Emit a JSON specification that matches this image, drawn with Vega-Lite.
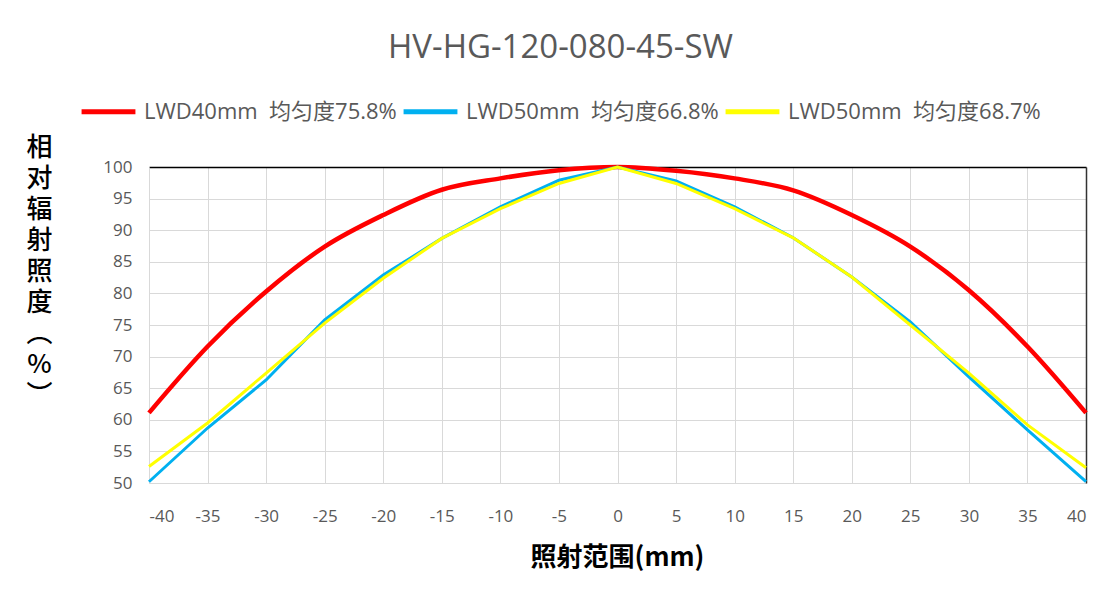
{
  "$schema": "https://vega.github.io/schema/vega-lite/v6.json",
  "autosize": {"type": "none"},
  "width": 937,
  "height": 316,
  "padding": {"left": 149, "top": 167, "right": 29, "bottom": 127},
  "background": "white",
  "config": {
    "view": {"stroke": null},
    "font": "Open Sans"
  },
  "title": {
    "text": "HV-HG-120-080-45-SW",
    "font": "Open Sans",
    "fontSize": 33,
    "fontWeight": "normal",
    "color": "#595959",
    "anchor": "middle",
    "dx": -57,
    "offset": 17
  },
  "data": {
    "values": [
      {"x": -40, "s": "A", "y": 61.1}, {"x": -35, "s": "A", "y": 71.6}, {"x": -30, "s": "A", "y": 80.3}, {"x": -25, "s": "A", "y": 87.4}, {"x": -20, "s": "A", "y": 92.4}, {"x": -15, "s": "A", "y": 96.4}, {"x": -10, "s": "A", "y": 98.2}, {"x": -5, "s": "A", "y": 99.5}, {"x": 0, "s": "A", "y": 100}, {"x": 5, "s": "A", "y": 99.4}, {"x": 10, "s": "A", "y": 98.2}, {"x": 15, "s": "A", "y": 96.3}, {"x": 20, "s": "A", "y": 92.4}, {"x": 25, "s": "A", "y": 87.4}, {"x": 30, "s": "A", "y": 80.5}, {"x": 35, "s": "A", "y": 71.6}, {"x": 40, "s": "A", "y": 61.1},
      {"x": -40, "s": "B", "y": 50.2}, {"x": -35, "s": "B", "y": 58.7}, {"x": -30, "s": "B", "y": 66.3}, {"x": -25, "s": "B", "y": 75.8}, {"x": -20, "s": "B", "y": 82.9}, {"x": -15, "s": "B", "y": 88.7}, {"x": -10, "s": "B", "y": 93.7}, {"x": -5, "s": "B", "y": 97.9}, {"x": 0, "s": "B", "y": 100}, {"x": 5, "s": "B", "y": 97.8}, {"x": 10, "s": "B", "y": 93.7}, {"x": 15, "s": "B", "y": 88.8}, {"x": 20, "s": "B", "y": 82.6}, {"x": 25, "s": "B", "y": 75.5}, {"x": 30, "s": "B", "y": 66.8}, {"x": 35, "s": "B", "y": 58.4}, {"x": 40, "s": "B", "y": 50.2},
      {"x": -40, "s": "C", "y": 52.6}, {"x": -35, "s": "C", "y": 59.5}, {"x": -30, "s": "C", "y": 67.4}, {"x": -25, "s": "C", "y": 75.3}, {"x": -20, "s": "C", "y": 82.4}, {"x": -15, "s": "C", "y": 88.7}, {"x": -10, "s": "C", "y": 93.4}, {"x": -5, "s": "C", "y": 97.4}, {"x": 0, "s": "C", "y": 100}, {"x": 5, "s": "C", "y": 97.4}, {"x": 10, "s": "C", "y": 93.4}, {"x": 15, "s": "C", "y": 88.8}, {"x": 20, "s": "C", "y": 82.6}, {"x": 25, "s": "C", "y": 75.0}, {"x": 30, "s": "C", "y": 67.4}, {"x": 35, "s": "C", "y": 59.2}, {"x": 40, "s": "C", "y": 52.4}
    ]
  },
  "resolve": {"axis": {"x": "independent", "y": "independent"}},
  "layer": [
    {
      "transform": [{"filter": "datum.s === 'A'"}],
      "mark": {"type": "line", "strokeWidth": 4.5, "interpolate": "monotone"},
      "encoding": {
        "x": {
          "field": "x", "type": "quantitative",
          "scale": {"domain": [-40, 40], "nice": false, "zero": false},
          "axis": {
            "orient": "bottom",
            "values": [-40, -35, -30, -25, -20, -15, -10, -5, 0, 5, 10, 15, 20, 25, 30, 35, 40],
            "labelExpr": "'' + datum.value",
            "grid": true, "gridColor": "#D9D9D9", "gridWidth": 1,
            "domainColor": "#D9D9D9", "ticks": false,
            "labelFont": "Open Sans", "labelFontSize": 17, "labelColor": "#595959", "labelPadding": 25,
            "title": "照射范围(mm)",
            "titleFont": "Noto Sans CJK SC", "titleFontSize": 26, "titleFontWeight": "bold", "titleColor": "#000000",
            "titleX": 468, "titleY": 74, "titleBaseline": "middle", "titleAnchor": null
          }
        },
        "y": {
          "field": "y", "type": "quantitative",
          "scale": {"domain": [50, 100], "nice": false, "zero": false},
          "axis": {
            "orient": "left",
            "values": [50, 55, 60, 65, 70, 75, 80, 85, 90, 95, 100],
            "grid": true, "gridColor": "#D9D9D9", "gridWidth": 1,
            "domainColor": "#D9D9D9", "ticks": false,
            "labelFont": "Open Sans", "labelFontSize": 17, "labelColor": "#595959", "labelPadding": 17,
            "title": ["相", "对", "辐", "射", "照", "度", "︵", "%", "︶"],
            "titleFont": "Noto Sans CJK SC", "titleFontSize": 26, "titleFontWeight": 500, "titleColor": "#000000",
            "titleAngle": 0, "titleAlign": "center", "titleBaseline": "top",
            "titleLineHeight": 31, "titleX": -110, "titleY": -33
          }
        },
        "color": {
          "field": "s", "type": "nominal",
          "scale": {"domain": ["A", "B", "C"], "range": ["#FF0000", "#00B0F0", "#FFFF00"]},
          "legend": {
            "orient": "none", "legendX": -70, "legendY": -85, "direction": "horizontal",
            "title": null,
            "labelExpr": "datum.value === 'A' ? 'LWD40mm\u00a0\u00a0均匀度75.8%' : datum.value === 'B' ? 'LWD50mm\u00a0\u00a0均匀度66.8%' : 'LWD50mm\u00a0\u00a0均匀度68.7%'",
            "symbolType": "stroke", "symbolSize": 2900, "symbolStrokeWidth": 5,
            "labelFont": "Open Sans, Noto Sans CJK SC", "labelFontSize": 22, "labelColor": "#595959",
            "labelOffset": 6, "columnPadding": -4, "labelLimit": 400
          }
        }
      }
    },
    {
      "transform": [{"filter": "datum.s === 'B'"}],
      "mark": {"type": "line", "strokeWidth": 3},
      "encoding": {
        "x": {
          "field": "x", "type": "quantitative",
          "axis": {"orient": "top", "grid": false, "labels": false, "ticks": false, "title": null, "domainColor": "#000000", "domainWidth": 1.5}
        },
        "y": {
          "field": "y", "type": "quantitative",
          "axis": {"orient": "right", "grid": false, "labels": false, "ticks": false, "title": null, "domainColor": "#333333", "domainWidth": 1.5}
        },
        "color": {"field": "s", "type": "nominal"}
      }
    },
    {
      "transform": [{"filter": "datum.s === 'C'"}],
      "mark": {"type": "line", "strokeWidth": 3},
      "encoding": {
        "x": {"field": "x", "type": "quantitative", "axis": null},
        "y": {"field": "y", "type": "quantitative", "axis": null},
        "color": {"field": "s", "type": "nominal"}
      }
    }
  ]
}
